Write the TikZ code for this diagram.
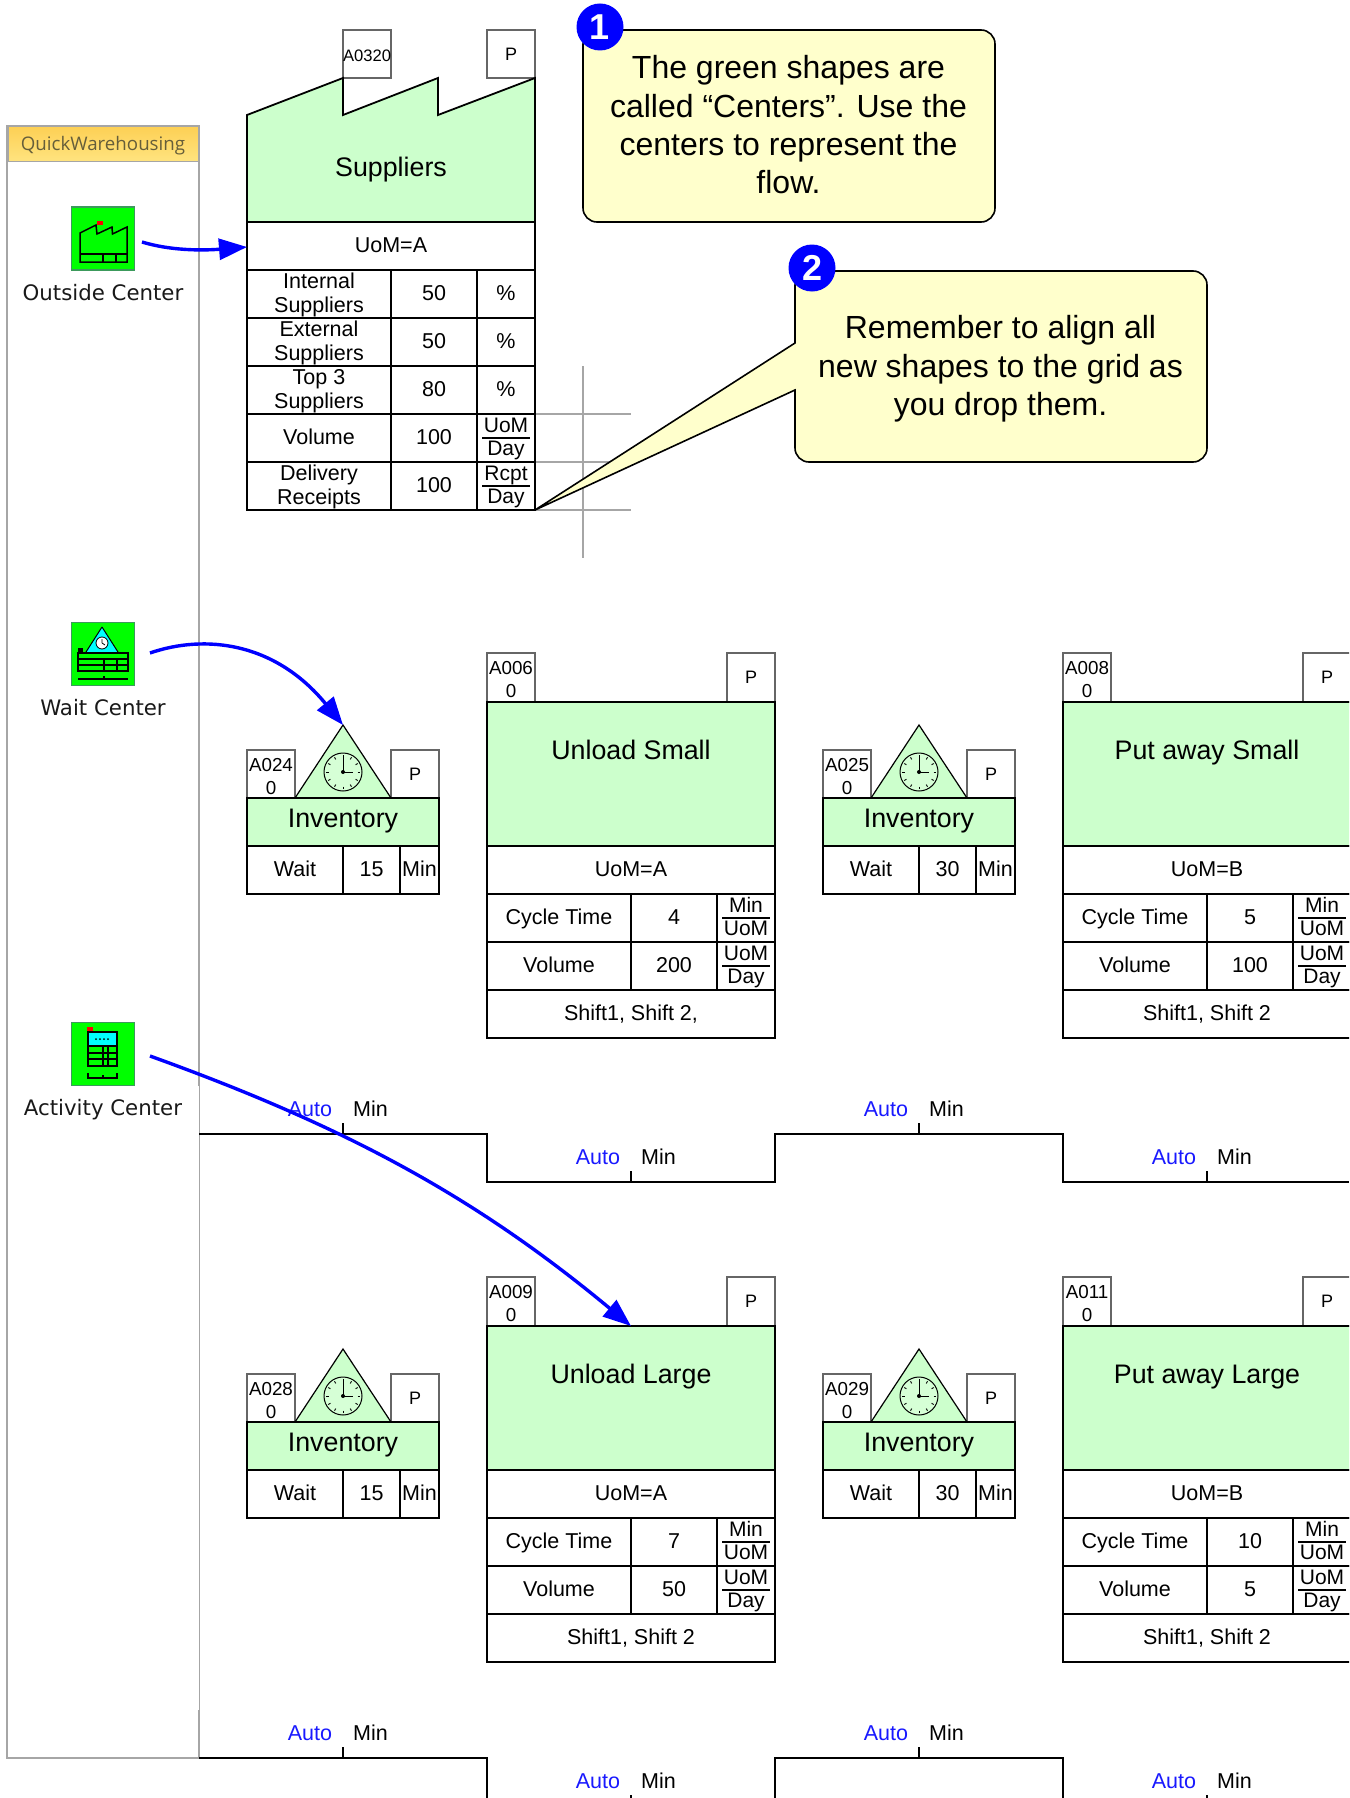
\documentclass[tikz,border=0pt]{standalone}
\usepackage{fontspec}
\setmainfont{Liberation Sans}
\newfontfamily\verd{DejaVu Sans}
\newfontfamily\segoe{Open Sans}
\usetikzlibrary{arrows.meta,calc}
\definecolor{cgreen}{HTML}{CCFFCC}
\definecolor{cyellow}{HTML}{FFFFCC}
\definecolor{iconb}{HTML}{3C9A5C}
\definecolor{palgray}{HTML}{A6A6A6}
\definecolor{icyan}{HTML}{00FFFF}
\definecolor{hdtop}{HTML}{FDD055}
\definecolor{hdmid}{HTML}{FFDB62}
\definecolor{hdbot}{HTML}{FFE480}
\definecolor{hdtext}{HTML}{665E3A}
\newcommand{\fsz}[2]{\fontsize{#1}{#2}\selectfont}
\newcommand{\mtop}{\rule{0pt}{17.8pt}}
\newcommand{\idtop}{\rule{0pt}{18.2pt}}
\newcommand{\pidtop}{\rule{0pt}{16.6pt}}
\tikzset{
  x=1pt,y=-1pt,
  cellb/.style={draw=black,line width=1.8pt,inner sep=0pt,outer sep=0pt,font=\fsz{21.5}{24},align=center,rectangle},
  one/.style={cellb,text height=15.9pt,text depth=3.3pt},
  greenb/.style={cellb,fill=cgreen},
  idb/.style={draw=black!60,line width=1.2pt,inner sep=0pt,outer sep=0pt,font=\fsz{18.8}{23},align=center,rectangle,fill=white},
  pb/.style={idb,font=\fsz{18}{20}},
  ttl/.style={inner sep=0pt,font=\fsz{26.8}{30},text height=18.5pt,text depth=5.5pt},
  tx/.style={inner sep=0pt,font=\fsz{21.5}{24}},
  fx/.style={inner sep=0pt,font=\fsz{21}{24},anchor=base},
  autol/.style={inner sep=0pt,font=\fsz{21.5}{24},text=blue!90!white},
  tline/.style={draw=black,line width=1.8pt},
  flow/.style={draw=blue,line width=3.4pt,-{Triangle[length=28pt,width=21pt]}},
  callout/.style={draw=black,line width=1.6pt,fill=cyellow},
  ctext/.style={inner sep=0pt,font=\fsz{32}{38.3},align=center},
  badge/.style={circle,fill=blue,inner sep=0pt,minimum size=47pt,text=white,font=\fsz{36}{36}\bfseries},
  icon/.style={draw=iconb,line width=1.5pt,fill=green,inner sep=0pt,outer sep=0pt,minimum size=63pt,rectangle},
  iconl/.style={inner sep=0pt,font=\fsz{21.3}{24}\verd,text=black!90,anchor=base},
  ik/.style={draw=black,line width=1.5pt},
}
% \cel[style]{name}{x}{y}{w}{h}{text}
\newcommand{\cel}[7][one]{\node[#1,anchor=north west,minimum width=#5pt,minimum height=#6pt] (#2) at (#3,#4) {#7};}
% fraction cell
\newcommand{\frc}[5]{%
  \cel{#1}{#2}{#3}{58}{48}{}
  \node[fx] (#1n) at ($(#2+29,#3+18)$) {#4};
  \node[fx] (#1d) at ($(#2+29,#3+41.5)$) {#5};
  \draw[line width=1.2pt] ($(#1.west)+(5,0)$) -- ($(#1.east)+(-5,0)$);
}
% process box: id x ytop A title uom ct vol shift
\newcommand{\procbox}[9]{%
  \cel[idb]{#1a}{#2}{#3}{48}{49}{\pidtop #4}
  \cel[pb]{#1p}{#2+240}{#3}{48}{49}{P}
  \cel[greenb]{#1g}{#2}{#3+49}{288}{144}{}
  \node[ttl] (#1t) at ($(#2+144,#3+99.5)$) {#5};
  \cel{#1u}{#2}{#3+193}{288}{48}{#6}
  \cel{#1c1}{#2}{#3+241}{144}{48}{Cycle Time}
  \cel{#1c2}{#2+144}{#3+241}{86}{48}{#7}
  \frc{#1c3}{#2+230}{#3+241}{Min}{UoM}
  \cel{#1v1}{#2}{#3+289}{144}{48}{Volume}
  \cel{#1v2}{#2+144}{#3+289}{86}{48}{#8}
  \frc{#1v3}{#2+230}{#3+289}{UoM}{Day}
  \cel{#1s}{#2}{#3+337}{288}{48}{#9}
}
% inventory box: id x ytop A wait
\newcommand{\invbox}[5]{%
  \cel[idb]{#1a}{#2}{#3}{48}{48}{\idtop #4}
  \cel[pb]{#1p}{#2+144}{#3}{48}{48}{P}
  \coordinate (#1apex) at (#2+96,#3-25);
  \draw[draw=black,line width=1.2pt,fill=cgreen] (#1a.south east) -- (#1apex) -- (#1p.south west) -- cycle;
  \draw[line width=1pt,fill=white!20!cgreen] (#2+96,#3+22) circle (19);
  \foreach \a in {0,30,...,330}{\draw[line width=.9pt] ($(#2+96,#3+22)+(\a:14.5)$) -- ($(#2+96,#3+22)+(\a:17)$);}
  \draw[line width=1pt] (#2+96,#3+22) -- (#2+96,#3+7);
  \draw[line width=1pt] (#2+96,#3+22) -- (#2+106,#3+22);
  \fill (#2+96,#3+22) circle (2);
  \cel[greenb]{#1g}{#2}{#3+48}{192}{48}{}
  \node[ttl] (#1t) at ($(#2+96,#3+70.5)$) {Inventory};
  \cel{#1w}{#2}{#3+96}{96}{48}{Wait}
  \cel{#1n}{#2+96}{#3+96}{57}{48}{#5}
  \cel{#1m}{#2+153}{#3+96}{39}{48}{Min}
}
% timeline labels: id x y
\newcommand{\tlab}[3]{%
  \draw[line width=1.3pt] (#2,#3+25) -- (#2,#3+14);
  \node[autol] (#1a) at (#2-33,#3) {Auto};
  \node[tx] (#1m) at (#2+27.5,#3) {Min};
}
\begin{document}
\begin{tikzpicture}
\useasboundingbox (0,0) rectangle (1349,1798);
\clip (0,0) rectangle (1349,1798);
\fill[white] (0,0) rectangle (1349,1798);

% palette
\draw[palgray,line width=2pt] (199,1086) -- (199,126) -- (7,126) -- (7,1758) -- (199,1758) -- (199,1710);
\draw[palgray,line width=1pt] (199,1086) -- (199,1710);
\shade[top color=hdtop,middle color=hdmid,bottom color=hdbot,draw=palgray,line width=1pt] (8,127) rectangle (198,162);
\node[inner sep=0pt,font=\fsz{18.7}{24}\segoe,text=hdtext] (palhead) at (103,145.5) {QuickWarehousing};

% palette icons
\node[icon] (icoOut) at (103,238.5) {};
\draw[ik] (80,262) -- (80,233) -- (96,225) -- (97,234) -- (112,227) -- (112.5,234) -- (127,227) -- (127,262) -- cycle;
\draw[ik] (80,254) -- (127,254) (103,254) -- (103,262) (116,254) -- (116,262);
\fill[red] (97,221) rectangle (103,225);
\node[iconl] (lblOut) at (103,300) {Outside Center};

\node[icon] (icoWait) at (103,654) {};
\fill[icyan] (102,627) -- (86,652) -- (118,652) -- cycle;
\draw[black,line width=1pt] (102,627) -- (86,652) (102,627) -- (118,652);
\draw[line width=.8pt,fill=white] (102,643) circle (6);
\draw[line width=.8pt] (102,643) -- (102,639) (102,643) -- (105,645);
\draw[ik] (78,653) rectangle (128,671) (78,659) -- (128,659) (78,665) -- (128,665) (104,659) -- (104,671) (117,659) -- (117,671);
\fill (78,648) rectangle (83,653);
\draw[ik] (78,679) -- (128,679);
\fill (103,676) rectangle (105,679);
\node[iconl] (lblWait) at (103,715) {Wait Center};

\node[icon] (icoAct) at (103,1054) {};
\fill[icyan] (88,1032) rectangle (117,1046);
\draw[ik] (88,1032) rectangle (117,1066) (88,1046) -- (117,1046) (88,1053) -- (117,1053) (88,1059) -- (117,1059) (103,1046) -- (103,1066) (108,1046) -- (108,1066);
\foreach \dx in {96,100,104,108}{\fill (\dx,1039) circle (1);}
\fill[red] (87,1027) rectangle (93,1031);
\draw[ik] (88,1073) -- (88,1078) -- (117,1078) -- (117,1073) (103,1075) -- (103,1078);
\node[iconl] (lblAct) at (103,1115.5) {Activity Center};

% grid guides
\draw[palgray,line width=1.5pt] (583,366) -- (583,558);
\draw[palgray,line width=1.5pt] (535,414) -- (631,414) (535,462) -- (631,462) (535,510) -- (631,510);

% suppliers
\cel[idb]{supA}{343}{30}{48}{48}{\fsz{16.6}{18}\rule{0pt}{14.5pt}A0320}
\cel[pb]{supP}{487}{30}{48}{48}{P}
\draw[draw=black,line width=1.8pt,fill=cgreen] (247,222) -- (247,115) -- (343,78) -- (343,115) -- (438,78) -- (438,115) -- (535,78) -- (535,222) -- cycle;
\node[ttl] (supT) at (391,170) {Suppliers};
\cel{supU}{247}{222}{288}{48}{UoM=A}
\cel[cellb]{s1a}{247}{270}{144}{48}{\mtop Internal\\Suppliers}
\cel{s1b}{391}{270}{86}{48}{50}
\cel{s1c}{477}{270}{58}{48}{\%}
\cel[cellb]{s2a}{247}{318}{144}{48}{\mtop External\\Suppliers}
\cel{s2b}{391}{318}{86}{48}{50}
\cel{s2c}{477}{318}{58}{48}{\%}
\cel[cellb]{s3a}{247}{366}{144}{48}{\mtop Top 3\\Suppliers}
\cel{s3b}{391}{366}{86}{48}{80}
\cel{s3c}{477}{366}{58}{48}{\%}
\cel{s4a}{247}{414}{144}{48}{Volume}
\cel{s4b}{391}{414}{86}{48}{100}
\frc{s4c}{477}{414}{UoM}{Day}
\cel[cellb]{s5a}{247}{462}{144}{48}{\mtop Delivery\\Receipts}
\cel{s5b}{391}{462}{86}{48}{100}
\frc{s5c}{477}{462}{Rcpt}{Day}

% processes
\procbox{us}{487}{653}{A006\\0}{Unload Small}{UoM=A}{4}{200}{Shift1, Shift 2,}
\procbox{ps}{1063}{653}{A008\\0}{Put away Small}{UoM=B}{5}{100}{Shift1, Shift 2}
\procbox{ul}{487}{1277}{A009\\0}{Unload Large}{UoM=A}{7}{50}{Shift1, Shift 2}
\procbox{pl}{1063}{1277}{A011\\0}{Put away Large}{UoM=B}{10}{5}{Shift1, Shift 2}
\invbox{ia}{247}{750}{A024\\0}{15}
\invbox{ib}{823}{750}{A025\\0}{30}
\invbox{ic}{247}{1374}{A028\\0}{15}
\invbox{id}{823}{1374}{A029\\0}{30}

% timelines
\draw[tline] (199,1134) -- (487,1134) -- (487,1182) -- (775,1182) -- (775,1134) -- (1063,1134) -- (1063,1182) -- (1349,1182);
\tlab{t1}{343}{1109}
\tlab{t2}{631}{1157}
\tlab{t3}{919}{1109}
\tlab{t4}{1207}{1157}
\draw[tline] (199,1758) -- (487,1758) -- (487,1798) (775,1798) -- (775,1758) -- (1063,1758) -- (1063,1798);
\tlab{t5}{343}{1733}
\tlab{t6}{631}{1781}
\tlab{t7}{919}{1733}
\tlab{t8}{1207}{1781}

% flow arrows
\coordinate (arOut) at (142,242);
\coordinate (arWait) at (150,653);
\coordinate (arAct) at (150,1056);
\draw[flow] (arOut) .. controls (175,252) and (210,250) .. ($(supU.west)+(0,1)$);
\draw[flow] (arWait) .. controls (205,634) and (275,642) .. (iaapex);
\draw[flow] (arAct) .. controls (350,1128) and (478,1199) .. (ulg.north);

% callouts
\coordinate (tipA) at (535,510);
\draw[callout,rounded corners=14pt] (583,30) rectangle (995,222);
\node[ctext] (cText1) at (788.5,125) {The green shapes are\\called “Centers”. Use the\\centers to represent the\\flow.};
\node[badge] (bad1) at (600,27) {1};
\draw[callout] (795,343) [rounded corners=14pt] -- (795,271) -- (1207,271) -- (1207,462) -- (795,462) [sharp corners] -- (795,390) -- (tipA) -- cycle;
\node[ctext] (cText2) at (1000.5,369) {Remember to align all\\new shapes to the grid as\\you drop them.};
\node[badge] (bad2) at (812,268) {2};
\end{tikzpicture}
\end{document}
